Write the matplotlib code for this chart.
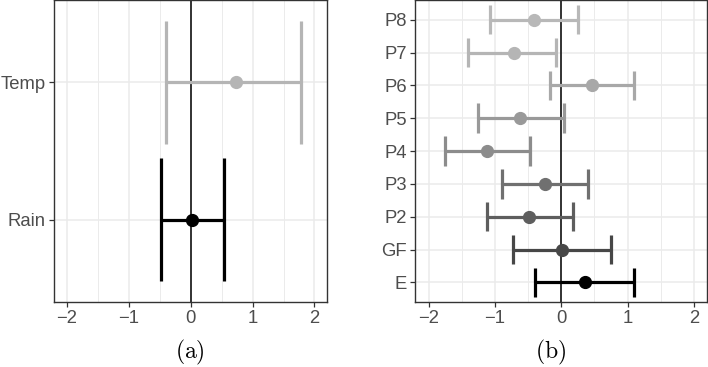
import matplotlib.pyplot as plt
from matplotlib.ticker import MultipleLocator

plt.rcParams['font.family'] = ['Liberation Sans', 'DejaVu Sans']
plt.rcParams['mathtext.fontset'] = 'cm'

# panel (a)
vars_a = ['Rain', 'Temp']
est_a = [0.03, 0.74]
lo_a = [-0.47, -0.40]
hi_a = [0.54, 1.79]
col_a = ['#000000', '#b5b5b5']

# panel (b)
vars_b = ['E', 'GF', 'P2', 'P3', 'P4', 'P5', 'P6', 'P7', 'P8']
est_b = [0.35, 0.01, -0.48, -0.25, -1.12, -0.62, 0.46, -0.72, -0.41]
lo_b = [-0.39, -0.73, -1.12, -0.89, -1.76, -1.26, -0.17, -1.40, -1.07]
hi_b = [1.10, 0.75, 0.18, 0.40, -0.47, 0.04, 1.09, -0.08, 0.25]
col_b = ['#000000', '#474747', '#5e5e5e', '#707070', '#8c8c8c',
         '#999999', '#a8a8a8', '#b5b5b5', '#b8b8b8']

fig = plt.figure(figsize=(7.08, 3.67), dpi=100)
ax1 = fig.add_axes([0.0767, 0.177, 0.385, 0.823])
ax2 = fig.add_axes([0.5866, 0.177, 0.4124, 0.823])


def panel(ax, names, est, lo, hi, cols, lw, ms):
    ys = list(range(1, len(names) + 1))
    ax.set_xlim(-2.2, 2.2)
    ax.set_ylim(0.4, len(names) + 0.6)
    ax.xaxis.set_minor_locator(MultipleLocator(0.5))
    ax.set_xticks([-2, -1, 0, 1, 2])
    ax.set_xticklabels(['\u22122', '\u22121', '0', '1', '2'])
    ax.set_yticks(ys)
    ax.set_yticklabels(names)
    ax.grid(True, which='major', color='#ebebeb', lw=1.1, zorder=0)
    ax.grid(True, which='minor', axis='x', color='#ebebeb', lw=0.7, zorder=0)
    ax.set_axisbelow(True)
    ax.axvline(0, color='black', lw=1.1, zorder=2)
    for y, e, l, h, c in zip(ys, est, lo, hi, cols):
        ax.errorbar(e, y, xerr=[[e - l], [h - e]], fmt='o', color=c,
                    ecolor=c, elinewidth=lw, ms=ms, zorder=3, capsize=0)
        # caps spanning 0.9 of a category
        ax.vlines([l, h], y - 0.45, y + 0.45, color=c, lw=lw, zorder=3)
    for s in ax.spines.values():
        s.set_color('#333333')
        s.set_linewidth(1.0)
    ax.tick_params(which='major', length=3.5, width=0.9, color='#333333',
                   labelsize=13.3, labelcolor='#4d4d4d', pad=2.5)
    ax.tick_params(which='minor', length=0)


panel(ax1, vars_a, est_a, lo_a, hi_a, col_a, 2.3, 8.5)
panel(ax2, vars_b, est_b, lo_b, hi_b, col_b, 2.3, 8.5)

fig.text(0.268, 0.022, r'$\mathrm{(a)}$', ha='center', fontsize=17)
fig.text(0.778, 0.022, r'$\mathrm{(b)}$', ha='center', fontsize=17)

fig.savefig('out.png', dpi=100)
